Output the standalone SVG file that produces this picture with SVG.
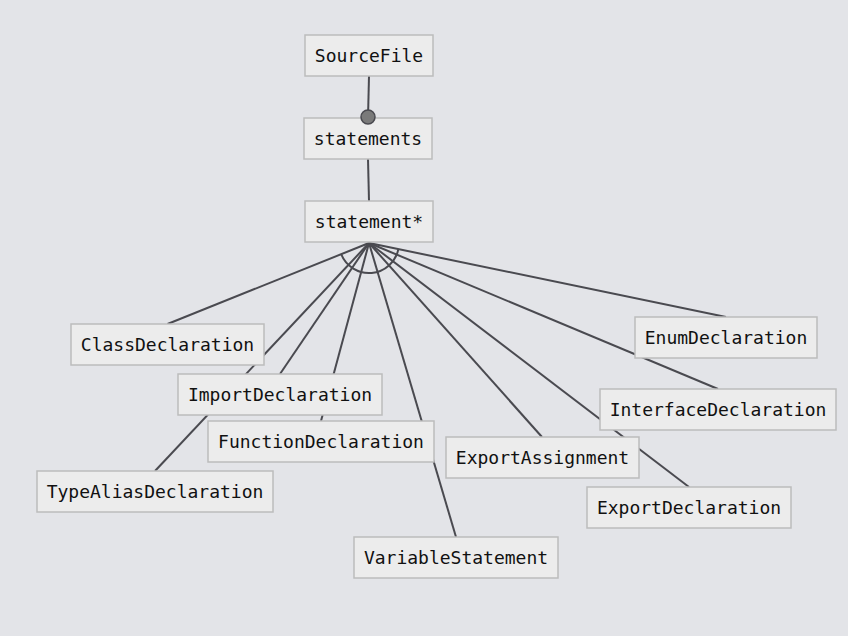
<svg xmlns="http://www.w3.org/2000/svg" width="848" height="636" viewBox="0 0 848 636">
<style>
.n rect{fill:#ececec;stroke:#bcbcbc;stroke-width:1.5}
.n text{font-family:"DejaVu Sans Mono",monospace;font-size:18px;fill:#111;text-anchor:middle;dominant-baseline:central}
.e line,.e path{stroke:#4a4a50;stroke-width:2;fill:none}
</style>
<rect width="848" height="636" fill="#e3e4e8"/>
<g id="connectors" class="e">
<line x1="369" y1="76" x2="368" y2="118"/>
<line x1="368" y1="159" x2="369" y2="201"/>
<line x1="369" y1="243" x2="167.5" y2="324"/>
<line x1="369" y1="243" x2="280" y2="374"/>
<line x1="369" y1="243" x2="321" y2="421"/>
<line x1="369" y1="243" x2="155" y2="471"/>
<line x1="369" y1="243" x2="456" y2="537"/>
<line x1="369" y1="243" x2="542" y2="437"/>
<line x1="369" y1="243" x2="689" y2="487"/>
<line x1="369" y1="243" x2="718" y2="389"/>
<line x1="369" y1="243" x2="726" y2="317"/>
<path d="M341.17 254.19 A30 30 0 0 0 398.38 249.09"/>
</g>
<g id="SourceFile" class="n"><rect x="305" y="35" width="128" height="41"/><text x="369" y="55.5">SourceFile</text></g>
<g id="statements" class="n"><rect x="304" y="118" width="128" height="41"/><text x="368" y="138.5">statements</text></g>
<g id="statement" class="n"><rect x="305" y="201" width="128" height="41"/><text x="369" y="221.5">statement*</text></g>
<g id="ClassDeclaration" class="n"><rect x="71" y="324" width="193" height="41"/><text x="167.5" y="344.5">ClassDeclaration</text></g>
<g id="ImportDeclaration" class="n"><rect x="178" y="374" width="204" height="41"/><text x="280" y="394.5">ImportDeclaration</text></g>
<g id="FunctionDeclaration" class="n"><rect x="208" y="421" width="226" height="41"/><text x="321" y="441.5">FunctionDeclaration</text></g>
<g id="TypeAliasDeclaration" class="n"><rect x="37" y="471" width="236" height="41"/><text x="155" y="491.5">TypeAliasDeclaration</text></g>
<g id="VariableStatement" class="n"><rect x="354" y="537" width="204" height="41"/><text x="456" y="557.5">VariableStatement</text></g>
<g id="ExportAssignment" class="n"><rect x="446" y="437" width="193" height="41"/><text x="542.5" y="457.5">ExportAssignment</text></g>
<g id="ExportDeclaration" class="n"><rect x="587" y="487" width="204" height="41"/><text x="689" y="507.5">ExportDeclaration</text></g>
<g id="InterfaceDeclaration" class="n"><rect x="600" y="389" width="236" height="41"/><text x="718" y="409.5">InterfaceDeclaration</text></g>
<g id="EnumDeclaration" class="n"><rect x="635" y="317" width="182" height="41"/><text x="726" y="337.5">EnumDeclaration</text></g>
<g id="connector-end">
<circle cx="368" cy="117" r="7" fill="#7a7a7a" stroke="#4a4a50" stroke-width="1.5"/>
</g>
</svg>
